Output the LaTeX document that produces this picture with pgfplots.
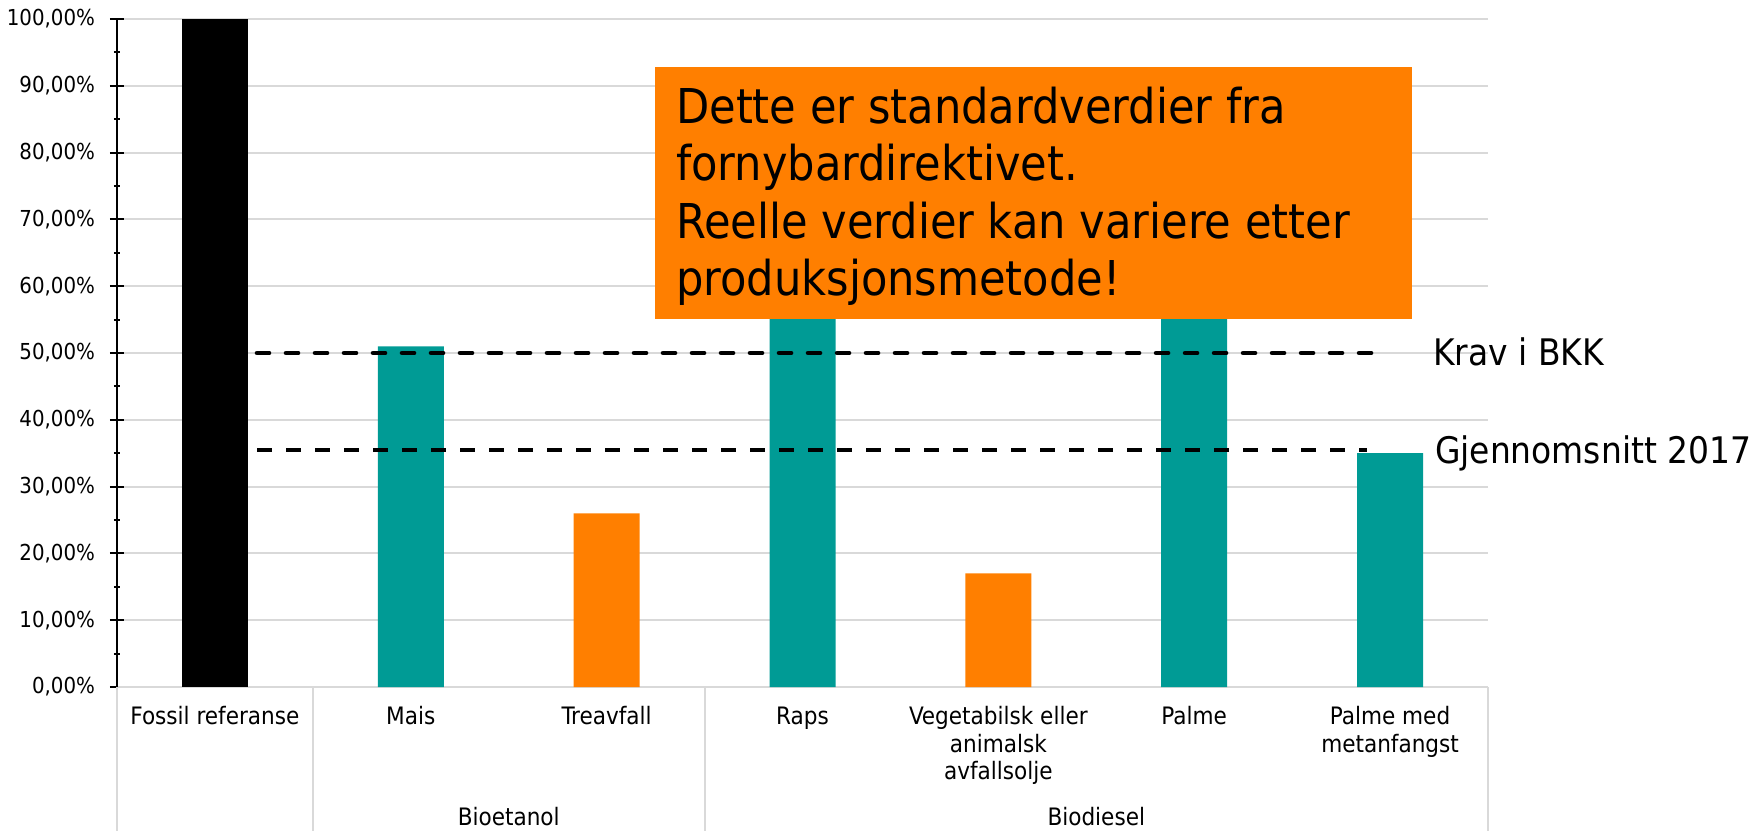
\documentclass[border=0pt]{standalone}
\usepackage{fontspec}
\setmainfont{DejaVu Sans Condensed}
\usepackage{pgfplots}
\pgfplotsset{compat=1.18}

\definecolor{barteal}{RGB}{0,155,149}
\definecolor{barorange}{RGB}{255,127,0}
\definecolor{gridgray}{RGB}{217,217,217}

\begin{document}
\begin{tikzpicture}
\begin{axis}[
  scale only axis, width=685.5pt, height=334pt,
  xmin=-0.5, xmax=6.5, ymin=0, ymax=100,
  axis lines*=left,
  x axis line style={draw=gridgray, line width=1pt},
  y axis line style={draw=black, line width=1pt},
  clip=false,
  bar width=33pt,
  ytick={0,10,...,100}, minor y tick num=1,
  ymajorgrids, major grid style={gridgray, line width=1pt},
  tick align=center, major tick length=7pt, minor tick length=3pt,
  ytick style={black, line width=1pt},
  xtick={0,...,6}, xtick style={draw=none},
  /pgf/number format/assume math mode=true,
  yticklabel={\pgfmathprintnumber[fixed,fixed zerofill,precision=2,use comma]{\tick}\%},
  yticklabel style={font=\fontsize{11}{13.7}\selectfont, xshift=-4pt},
  typeset ticklabels with strut,
  xticklabel style={align=center, font=\fontsize{12}{13.7}\selectfont, yshift=-2.2pt},
  xticklabels={Fossil referanse, Mais, Treavfall, Raps,
    {Vegetabilsk eller\\animalsk\\avfallsolje}, Palme, {Palme med\\metanfangst}},
]
\addplot[ybar, bar shift=0pt, fill=black, draw=none] coordinates {(0,100)};
\addplot[ybar, bar shift=0pt, fill=barteal, draw=none] coordinates {(1,51) (3,62) (5,80) (6,35)};
\addplot[ybar, bar shift=0pt, fill=barorange, draw=none] coordinates {(2,26) (4,17)};

% reference lines
\addplot[sharp plot, black, line width=2.3pt, line cap=round, dash pattern=on 6pt off 8.5pt] coordinates {(0.215,50) (5.98,50)};
\addplot[sharp plot, black, line width=2pt, dash pattern=on 7.5pt off 7pt] coordinates {(0.215,35.5) (5.88,35.5)};

% category separators
\foreach \s in {-0.5,0.5,2.5,6.5} {
  \edef\tmp{\noexpand\draw[gridgray, line width=1pt] (axis cs:\s,0) -- ([yshift=-72pt]axis cs:\s,0);}
  \tmp
}
\node[anchor=base, font=\fontsize{12}{13.7}\selectfont, yshift=-69pt] at (axis cs:1.5,0) {Bioetanol};
\node[anchor=base, font=\fontsize{12}{13.7}\selectfont, yshift=-69pt] at (axis cs:4.5,0) {Biodiesel};

% note box
\fill[barorange] (axis cs:2.246,92.8) rectangle (axis cs:6.11,55.1);
\node[anchor=base west, inner sep=0pt, font=\fontsize{24}{28.7}\selectfont] at (axis cs:2.353,84.4)
  {\begin{tabular}[t]{@{}l@{}}Dette er standardverdier fra\\fornybardirektivet.\\Reelle verdier kan variere etter\\produksjonsmetode!\end{tabular}};

\node[anchor=base west, inner sep=0pt, font=\fontsize{18.3}{22}\selectfont] at (axis cs:6.218,48.2) {Krav i BKK};
\node[anchor=base west, inner sep=0pt, font=\fontsize{18.3}{22}\selectfont] at (axis cs:6.228,33.5) {Gjennomsnitt 2017};

\coordinate (o) at (rel axis cs:0,0);
\end{axis}
\pgfresetboundingbox
\path (o) ++(-58.5pt,-72pt) rectangle ++(877pt,415.5pt);
\end{tikzpicture}
\end{document}
